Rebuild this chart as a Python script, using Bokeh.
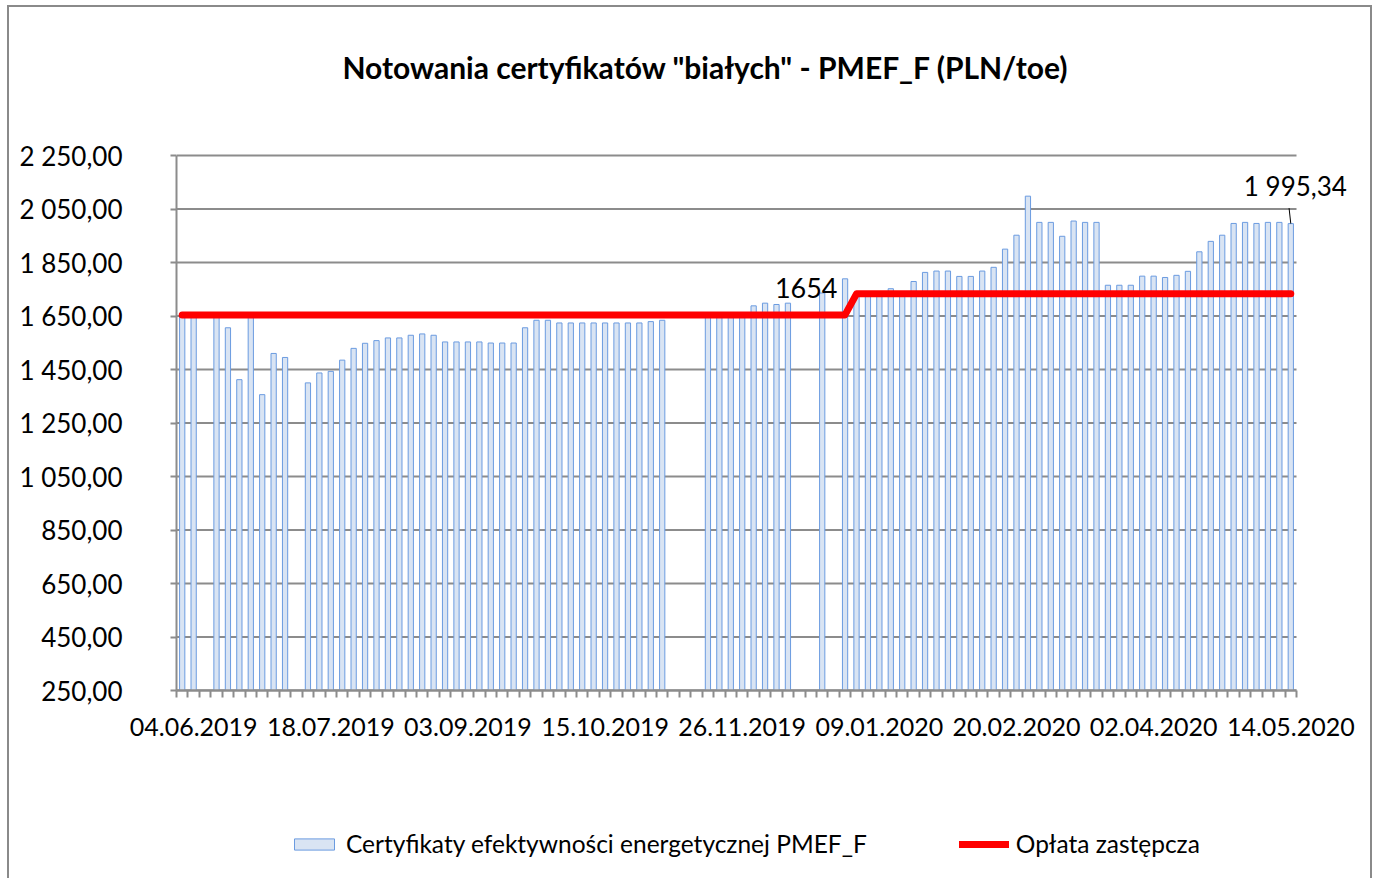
from bokeh.plotting import figure
from bokeh.layouts import column
from bokeh.models import (Range1d, FixedTicker, Label, Legend, LegendItem,
                          ColumnDataSource)
from bokeh.embed import file_html
from bokeh.resources import INLINE

# ---------------- data ----------------
title_text = 'Notowania certyfikatów "białych" - PMEF_F (PLN/toe)'
series_bar_name = "Certyfikaty efektywności energetycznej PMEF_F"
series_line_name = "Opłata zastępcza"

# session index (category axis, 98 sessions)
session = list(range(98))

# PMEF_F price per session (None = no quotation)
price = [
    1652, 1650, None, 1652, 1606, 1412, 1652, 1356, 1510, 1495,
    None, 1400, 1437, 1443, 1485, 1529, 1548, 1558, 1568, 1568,
    1578, 1583, 1578, 1553, 1553, 1553, 1553, 1549, 1549, 1549,
    1606, 1634, 1634, 1624, 1624, 1624, 1624, 1624, 1624, 1624,
    1624, 1629, 1634, None, None, None, 1655, 1655, 1655, 1655,
    1688, 1698, 1693, 1698, None, None, 1736, None, 1789, 1735,
    1730, 1730, 1752, 1738, 1779, 1813, 1818, 1818, 1798, 1798,
    1818, 1832, 1900, 1952, 2098, 2000, 2000, 1948, 2005, 2000,
    2000, 1765, 1765, 1765, 1799, 1799, 1794, 1802, 1817, 1890,
    1929, 1952, 1996, 2000, 1996, 2000, 2000, 1995.34,
]

# substitute fee per session
fee = [1654] * 59 + [1733] * 39

# axis ticks
y_ticks = [250, 450, 650, 850, 1050, 1250, 1450, 1650, 1850, 2050, 2250]
x_label_idx = [1, 13, 25, 37, 49, 61, 73, 85, 97]
x_labels = ["04.06.2019", "18.07.2019", "03.09.2019", "15.10.2019",
            "26.11.2019", "09.01.2020", "20.02.2020", "02.04.2020",
            "14.05.2020"]

# ---------------- helpers ----------------
def pl_fmt(v, dec=2):
    s = f"{v:,.{dec}f}"
    return s.replace(",", " ").replace(".", ",")

FONT = "Lato"
GRID = "#8c8c8c"
TXT = "#000000"
BAR_FILL = "#d9e4f3"
BAR_LINE = "#6b9be0"
FEE_COLOR = "#ff0000"

# layout (pixels)
PLOT_W = 1120          # width of the category area
PLOT_H = 535           # height of the value area
EXTRA_RIGHT = 74       # free room right of the categories (for the label)
EXTRA_TOP = 148        # free room above the value area (for the title)
LEFT = 167
TOTAL_W = LEFT + PLOT_W + EXTRA_RIGHT
LEG_H = 78
n = len(session)
px_per_cat = PLOT_W / n
px_per_val = PLOT_H / (y_ticks[-1] - y_ticks[0])

src = ColumnDataSource(dict(
    x=session,
    price=[float("nan") if v is None else v for v in price],
    fee=fee,
))

p = figure(
    frame_width=PLOT_W + EXTRA_RIGHT, frame_height=PLOT_H + EXTRA_TOP,
    min_border_left=LEFT, min_border_right=0,
    min_border_top=0, min_border_bottom=110,
    x_range=Range1d(-0.5, n - 0.5 + EXTRA_RIGHT / px_per_cat),
    y_range=Range1d(y_ticks[0], y_ticks[-1] + EXTRA_TOP / px_per_val),
    output_backend="svg", toolbar_location=None, tools="",
)
p.outline_line_color = None
p.background_fill_color = "white"
p.border_fill_color = "white"
p.xgrid.grid_line_color = None
p.ygrid.grid_line_color = None

# horizontal gridlines restricted to the category area
p.segment(x0=[-0.5] * len(y_ticks), x1=[n - 0.5] * len(y_ticks),
          y0=y_ticks, y1=y_ticks, line_color=GRID, line_width=2)

bars = p.vbar(x="x", top="price", bottom=y_ticks[0], width=0.46, source=src,
              fill_color=BAR_FILL, line_color=BAR_LINE, line_width=1)
line = p.line(x="x", y="fee", source=src, line_color=FEE_COLOR, line_width=7,
              line_cap="round", line_join="round")

# y axis
p.yaxis.bounds = (y_ticks[0], y_ticks[-1])
p.yaxis.ticker = FixedTicker(ticks=y_ticks)
p.yaxis.major_label_overrides = {t: pl_fmt(t) for t in y_ticks}
p.yaxis.axis_line_color = GRID
p.yaxis.axis_line_width = 2
p.yaxis.major_tick_line_color = GRID
p.yaxis.major_tick_line_width = 2
p.yaxis.major_tick_out = 6
p.yaxis.major_tick_in = 0
p.yaxis.minor_tick_line_color = None
p.yaxis.major_label_standoff = 48
p.yaxis.major_label_text_font = FONT
p.yaxis.major_label_text_font_size = "26px"
p.yaxis.major_label_text_color = TXT

# x axis
boundaries = [i - 0.5 for i in session] + [session[-1] + 0.5]
p.xaxis.bounds = (-0.5, n - 0.5)
p.xaxis.ticker = FixedTicker(ticks=x_label_idx, minor_ticks=boundaries)
p.xaxis.major_label_overrides = dict(zip(x_label_idx, x_labels))
p.xaxis.axis_line_color = GRID
p.xaxis.axis_line_width = 2.5
p.xaxis.major_tick_line_color = None
p.xaxis.major_tick_out = 0
p.xaxis.minor_tick_line_color = GRID
p.xaxis.minor_tick_line_width = 2
p.xaxis.minor_tick_out = 7
p.xaxis.minor_tick_in = 0
p.xaxis.major_label_standoff = 20
p.xaxis.major_label_text_font = FONT
p.xaxis.major_label_text_font_size = "25px"
p.xaxis.major_label_text_color = TXT

# title
p.add_layout(Label(x=45.8, y=2580, text=title_text, text_align="center",
                   text_baseline="middle", text_font=FONT,
                   text_font_style="bold", text_font_size="30px",
                   text_color=TXT))

# data labels
p.add_layout(Label(x=54.6, y=fee[55] + 100, text=f"{fee[55]:.0f}",
                   text_align="center", text_baseline="middle",
                   text_font=FONT, text_font_size="27px",
                   text_color=TXT))
last = session[-1]
p.add_layout(Label(x=last + 0.4, y=price[-1] + 140, text=pl_fmt(price[-1]),
                   text_align="center", text_baseline="middle",
                   text_font=FONT, text_font_size="26px",
                   text_color=TXT))
p.segment(x0=[last - 0.15], y0=[price[-1] + 58], x1=[last], y1=[price[-1]],
          line_color="#000000", line_width=1)

# ---------------- legend strip ----------------
p2 = figure(frame_width=TOTAL_W, frame_height=LEG_H,
            min_border_left=0, min_border_right=0,
            min_border_top=0, min_border_bottom=0,
            x_range=Range1d(0, TOTAL_W), y_range=Range1d(0, LEG_H),
            x_axis_type=None, y_axis_type=None,
            output_backend="svg", toolbar_location=None, tools="")
p2.outline_line_color = None
p2.grid.visible = False
p2.background_fill_color = "white"
p2.border_fill_color = "white"
# legend-only proxies (kept outside the visible range of the strip)
leg_bar = p2.vbar(x=[-100], top=[-100], bottom=[-101], width=0.46,
                  fill_color=BAR_FILL, line_color=BAR_LINE, line_width=1)
leg_line = p2.line(x=[-100, -99], y=[-100, -100], line_color=FEE_COLOR,
                   line_width=7, line_cap="round")
legend = Legend(items=[LegendItem(label=series_bar_name, renderers=[leg_bar]),
                       LegendItem(label=series_line_name, renderers=[leg_line])],
                orientation="horizontal", location=(280, 20),
                glyph_width=50, glyph_height=14, label_standoff=7,
                spacing=92, padding=5, margin=0,
                label_text_font=FONT, label_text_font_size="24.5px",
                label_text_color=TXT, border_line_color=None,
                background_fill_alpha=0)
p2.add_layout(legend, "center")

layout = column(p, p2, spacing=0)
layout.styles = {"margin-left": "7px", "margin-top": "5px",
                 "border-left": "2px solid #8a8a8a",
                 "border-top": "2px solid #8a8a8a",
                 "border-right": "2px solid #8a8a8a"}

open("out.html", "w").write(file_html(layout, INLINE))
